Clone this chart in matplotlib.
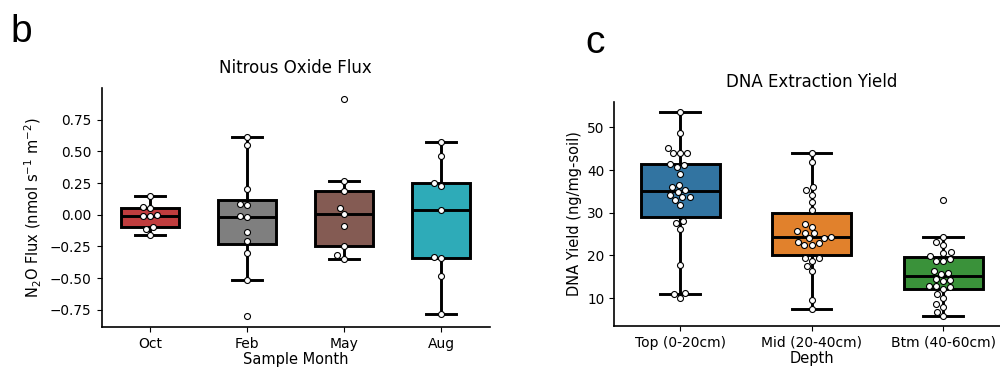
import matplotlib
matplotlib.use("Agg")
import matplotlib.pyplot as plt
from matplotlib.ticker import MultipleLocator
import seaborn as sns
import pandas as pd

# --- N2O flux by sample month ---
months = ["Oct", "Feb", "May", "Aug"]
oct_flux = [0.15, 0.06, 0.053, -0.008, -0.013, 0.0, -0.10, -0.113, -0.16]
feb_flux = [0.617, 0.551, 0.202, 0.084, 0.079, -0.013, -0.018, -0.139, -0.21,
            -0.305, -0.514, -0.80]
may_flux = [0.911, 0.268, 0.184, 0.053, 0.005, -0.087, -0.244, -0.32, -0.346]
aug_flux = [0.575, 0.465, 0.254, 0.228, 0.034, -0.331, -0.341, -0.486, -0.78]
month_colors = ["tab:red", "tab:gray", "tab:brown", "tab:cyan"]

# --- DNA yield by depth ---
depths = ["Top (0-20cm)", "Mid (20-40cm)", "Btm (40-60cm)"]
top_yield = [53.56, 48.78, 45.27, 43.96, 43.96, 43.96, 41.45, 40.68, 41.22, 39.18,
             36.0, 36.53, 35.36, 34.9, 34.26, 33.65, 33.72, 33.09, 31.78, 27.56,
             28.1, 26.16, 17.87, 11.0, 11.17, 10.0]
mid_yield = [44.03, 41.92, 35.43, 36.07, 34.26, 32.48, 30.68, 27.4, 26.77, 25.36,
             25.22, 25.69, 24.36, 24.05, 24.19, 23.26, 22.48, 22.48, 22.95, 19.37,
             18.74, 19.44, 17.56, 16.32, 9.6, 7.49]
btm_yield = [33.02, 24.29, 23.18, 22.48, 20.77, 20.68, 19.95, 19.13, 18.8, 18.66,
             16.46, 15.85, 15.69, 14.45, 14.29, 14.12, 12.88, 12.72, 12.58, 12.1,
             11.0, 10.0, 8.67, 8.03, 6.86, 5.85]
depth_colors = ["tab:blue", "tab:orange", "tab:green"]

plt.rcParams["font.family"] = ["DejaVu Sans"]


def box_swarm(ax, groups, labels, colors, ylabel, xlabel, title):
    n = len(groups)
    bp = ax.boxplot(groups, positions=list(range(n)), widths=0.6, capwidths=0.3,
                    patch_artist=True, showfliers=False,
                    boxprops=dict(linewidth=2.1, edgecolor="black"),
                    whiskerprops=dict(linewidth=2.1, color="black"),
                    capprops=dict(linewidth=2.1, color="black"),
                    medianprops=dict(linewidth=2.1, color="black"))
    for patch, c in zip(bp["boxes"], colors):
        patch.set_facecolor(sns.desaturate(c, 0.75))
    df = pd.DataFrame({"g": [labels[i] for i, g in enumerate(groups) for _ in g],
                       "v": [v for g in groups for v in g]})
    sns.swarmplot(data=df, x="g", y="v", order=labels, ax=ax, color="white",
                  edgecolor="black", linewidth=0.8, size=4.3, zorder=5)
    ax.set_xlim(-0.5, n - 0.5)
    ax.set_xticks(range(n))
    ax.set_xticklabels(labels, fontsize=10)
    ax.tick_params(axis="y", labelsize=9.8)
    ax.set_xlabel(xlabel, fontsize=10.5, labelpad=1)
    ax.set_ylabel(ylabel, fontsize=10.5)
    ax.set_title(title, fontsize=12, pad=11)
    for s in ["top", "right"]:
        ax.spines[s].set_visible(False)
    for s in ["left", "bottom"]:
        ax.spines[s].set_linewidth(1.2)


fig = plt.figure(figsize=(10, 3.71), dpi=100)
ax1 = fig.add_axes([0.1015, 0.1186, 0.388, 0.643])
ax2 = fig.add_axes([0.6143, 0.1213, 0.3945, 0.6038])

box_swarm(ax1, [oct_flux, feb_flux, may_flux, aug_flux], months, month_colors,
          r"N$_2$O Flux (nmol s$^{-1}$ m$^{-2}$)", "Sample Month", "Nitrous Oxide Flux")
ax1.yaxis.set_major_locator(MultipleLocator(0.25))

box_swarm(ax2, [top_yield, mid_yield, btm_yield], depths, depth_colors,
          "DNA Yield (ng/mg-soil)", "Depth", "DNA Extraction Yield")

fig.text(0.01, 0.887, "b", fontsize=28, family=["Liberation Sans", "DejaVu Sans"])
fig.text(0.585, 0.857, "c", fontsize=28, family=["Liberation Sans", "DejaVu Sans"])

fig.savefig("out.png", dpi=100)
